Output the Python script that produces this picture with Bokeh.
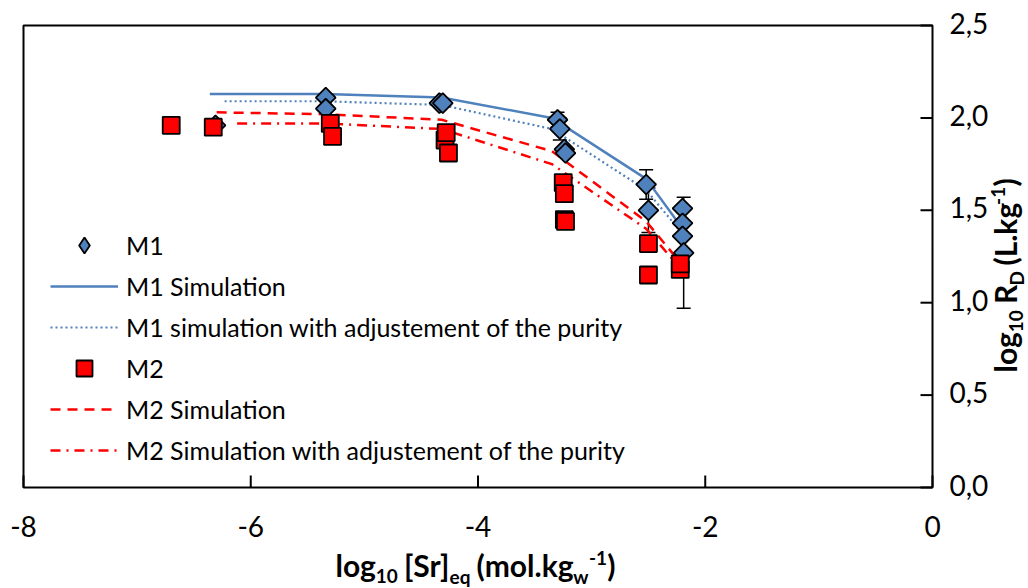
import numpy as np
from bokeh.plotting import figure
from bokeh.models import (Label, Legend, LegendItem, Whisker, TeeHead,
                          ColumnDataSource, Range1d)
from bokeh.core.properties import value
from bokeh.embed import file_html
from bokeh.resources import INLINE

# ---------------- data ----------------
m1_x = [-6.31, -5.34, -5.34, -4.34, -4.31, -3.30, -3.28, -3.24, -3.23, -2.52, -2.50, -2.20, -2.20, -2.20, -2.19]
m1_y = [1.96, 2.11, 2.05, 2.08, 2.08, 1.99, 1.94, 1.83, 1.81, 1.64, 1.50, 1.51, 1.43, 1.36, 1.27]
m1_err = [0, 0, 0, 0, 0, 0.04, 0.06, 0, 0, 0.08, 0.12, 0, 0, 0, 0.30]

m2_x = [-6.70, -6.33, -5.30, -5.28, -4.29, -4.28, -4.26, -3.25, -3.24, -3.24, -3.23, -2.50, -2.50, -2.22, -2.22]
m2_y = [1.96, 1.95, 1.97, 1.90, 1.88, 1.92, 1.81, 1.65, 1.59, 1.45, 1.44, 1.32, 1.15, 1.18, 1.21]

sim1_x = [-6.36, -5.35, -4.32, -3.35, -2.52, -2.21]
sim1_y = [2.13, 2.13, 2.11, 2.00, 1.67, 1.41]
sim1p_x = [-6.23, -5.35, -4.32, -3.35, -2.52, -2.21]
sim1p_y = [2.09, 2.09, 2.07, 1.94, 1.61, 1.38]
sim2_x = [-6.30, -5.35, -4.32, -3.35, -2.52, -2.21]
sim2_y = [2.03, 2.02, 1.99, 1.82, 1.44, 1.21]
sim2p_x = [-6.12, -5.35, -4.32, -3.35, -2.52, -2.21]
sim2p_y = [1.97, 1.97, 1.94, 1.75, 1.40, 1.18]

x_ticks = [-8, -6, -4, -2, 0]
x_tick_labels = ["-8", "-6", "-4", "-2", "0"]
y_ticks = [0.0, 0.5, 1.0, 1.5, 2.0, 2.5]
y_tick_labels = ["0,0", "0,5", "1,0", "1,5", "2,0", "2,5"]

legend_labels = ["M1", "M1 Simulation", "M1 simulation with adjustement of the purity",
                 "M2", "M2 Simulation", "M2 Simulation with adjustement of the purity"]

BLUE = "#4F81BD"
RED = "#FF0000"
FONT = "Lato"

# ---------------- layout (page pixels of the plot box) ----------------
W, H = 1028, 588
BOX_L, BOX_T, BOX_R, BOX_B = 23, 25, 932, 487
X0, X1 = x_ticks[0], x_ticks[-1]
Y0, Y1 = y_ticks[0], y_ticks[-1]
XPP = (X1 - X0) / (BOX_R - BOX_L)      # data units per pixel
YPP = (Y1 - Y0) / (BOX_B - BOX_T)
BASE_FIX = 0.44                         # baseline correction (fraction of font size)


def px2x(px):
    return X0 + (px - BOX_L) * XPP


def py2y(py):
    return Y1 - (py - BOX_T) * YPP


p = figure(width=W, height=H, x_range=Range1d(px2x(0), px2x(W)),
           y_range=Range1d(py2y(H), py2y(0)), x_axis_type=None, y_axis_type=None,
           output_backend="svg", toolbar_location=None,
           min_border=0, min_border_left=0, min_border_right=0,
           min_border_top=0, min_border_bottom=0)
p.grid.visible = False
p.outline_line_color = None
p.background_fill_color = "white"
p.border_fill_color = "white"

# plot box and ticks (ticks point inward, as in the reference)
TICK = 12
TICK_FS = 28
p.quad(left=X0, right=X1, bottom=Y0, top=Y1, fill_color=None, line_color="black", line_width=2)
p.segment(x0=x_ticks, y0=[Y0] * len(x_ticks), x1=x_ticks, y1=[Y0 + TICK * YPP] * len(x_ticks),
          line_color="black", line_width=2)
p.segment(x0=[X1 - TICK * XPP] * len(y_ticks), y0=y_ticks, x1=[X1] * len(y_ticks), y1=y_ticks,
          line_color="black", line_width=2)

# tick labels
fix = BASE_FIX * TICK_FS
p.text(x=x_ticks, y=[py2y(BOX_B + 51 - fix)] * len(x_ticks), text=x_tick_labels,
       text_font=value(FONT), text_font_size=f"{TICK_FS}px", text_align="center",
       text_baseline="alphabetic", text_color="black")
p.text(x=[px2x(BOX_R + 17)] * len(y_ticks), y=[t - (10 - fix) * YPP for t in y_ticks],
       text=y_tick_labels, text_font=value(FONT), text_font_size=f"{TICK_FS}px",
       text_align="left", text_baseline="alphabetic", text_color="black")

# ---------------- error bars (beneath markers) ----------------
ex = [x for x, e in zip(m1_x, m1_err) if e > 0]
ey = [y for y, e in zip(m1_y, m1_err) if e > 0]
ee = [e for e in m1_err if e > 0]
err_src = ColumnDataSource(dict(x=ex, upper=[a + b for a, b in zip(ey, ee)],
                                lower=[a - b for a, b in zip(ey, ee)]))
wh = Whisker(base="x", upper="upper", lower="lower", source=err_src, level="underlay",
             line_color="black", line_width=1.5,
             upper_head=TeeHead(size=14, line_color="black", line_width=1.5),
             lower_head=TeeHead(size=14, line_color="black", line_width=1.5))
p.add_layout(wh)

# ---------------- lines ----------------
r_s1 = p.line(sim1_x, sim1_y, line_color=BLUE, line_width=2.5)
r_s1p = p.line(sim1p_x, sim1p_y, line_color=BLUE, line_width=2.2, line_dash="2 3")
r_s2 = p.line(sim2_x, sim2_y, line_color=RED, line_width=2.5, line_dash="10 7")
r_s2p = p.line(sim2p_x, sim2p_y, line_color=RED, line_width=2.5, line_dash="10 6 2 6")

# ---------------- markers ----------------
# diamond glyph used as the legend key (hidden below the rotated squares in the plot)
r_m1_key = p.scatter(m1_x, m1_y, marker="diamond", size=12, fill_color=BLUE,
                     line_color="black", line_width=1.8)
r_m1 = p.scatter(m1_x, m1_y, marker="square", angle=np.pi / 4, size=14,
                 fill_color=BLUE, line_color="black", line_width=1.8)
r_m2 = p.scatter(m2_x, m2_y, marker="square", size=17,
                 fill_color=RED, line_color="black", line_width=1.8)

legend = Legend(items=[LegendItem(label=legend_labels[0], renderers=[r_m1_key]),
                       LegendItem(label=legend_labels[1], renderers=[r_s1]),
                       LegendItem(label=legend_labels[2], renderers=[r_s1p]),
                       LegendItem(label=legend_labels[3], renderers=[r_m2]),
                       LegendItem(label=legend_labels[4], renderers=[r_s2]),
                       LegendItem(label=legend_labels[5], renderers=[r_s2p])],
                location=(50, H - 470), orientation="vertical")
legend.border_line_color = None
legend.background_fill_alpha = 0
legend.padding = 0
legend.margin = 0
legend.spacing = 1
legend.glyph_width = 68
legend.glyph_height = 40
legend.label_height = 40
legend.label_standoff = 8
legend.label_text_font = FONT
legend.label_text_font_size = "25px"
legend.label_text_color = "black"
p.add_layout(legend)

# ---------------- axis titles with sub/superscripts ----------------
W_BOLD = {'l': 0.26, 'o': 0.55, 'g': 0.50, '[': 0.32, 'S': 0.48, 'r': 0.36,
          ']': 0.32, '(': 0.32, 'm': 0.83, '.': 0.22, 'k': 0.51, ')': 0.32, 'e': 0.51,
          'q': 0.55, 'w': 0.77, '-': 0.35, '1': 0.56, '0': 0.56, 'R': 0.58, 'D': 0.68,
          'L': 0.44}


def tw(s, size):
    return sum(W_BOLD.get(c, 0.55) for c in s) * size


def title(pieces, start, base, vertical=False):
    cur = start
    for txt, size, shift, gap in pieces:
        fx = BASE_FIX * size
        if vertical:
            cur -= gap
            lab = Label(x=px2x(base - shift - fx), y=py2y(cur), angle=np.pi / 2, text=txt)
            cur -= tw(txt, size)
        else:
            cur += gap
            lab = Label(x=px2x(cur), y=py2y(base - shift - fx), text=txt)
            cur += tw(txt, size)
        lab.text_font = FONT
        lab.text_font_style = "bold"
        lab.text_font_size = f"{size}px"
        lab.text_color = "black"
        lab.text_align = "left"
        lab.text_baseline = "alphabetic"
        p.add_layout(lab)


# (text, font px, baseline shift up, gap before)
x_title = [("log", 30, 0, 0), ("10", 19, -6, 1), ("[Sr]", 30, 0, 7), ("eq", 19, -6, 1),
           ("(mol.kg", 30, 0, 7), ("w", 19, -6, 1), ("-1", 19, 12, 1), (")", 30, 0, 1)]
y_title = [("log", 30, 0, 0), ("10", 19, -6, 1), ("R", 30, 0, 7), ("D", 19, -6, 1),
           ("(L.kg", 30, 0, 7), ("-1", 19, 12, 1), (")", 30, 0, 1)]
title(x_title, 335, 578)
title(y_title, 372, 1018, vertical=True)

open("out.html", "w").write(file_html(p, INLINE))
